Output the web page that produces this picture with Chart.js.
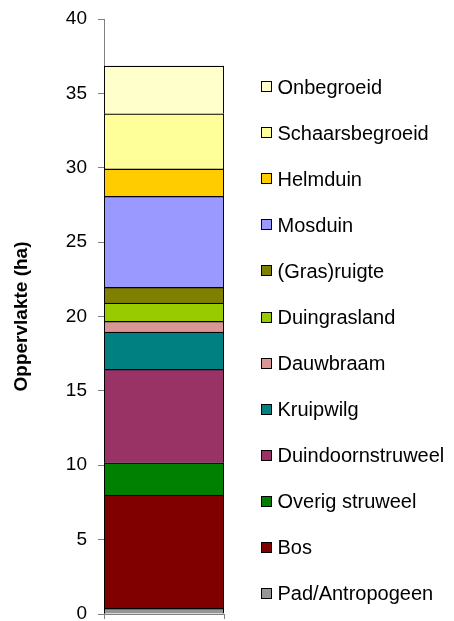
<!DOCTYPE html>
<html>
<head>
<meta charset="utf-8">
<script src="https://cdn.jsdelivr.net/npm/chart.js@4/dist/chart.umd.min.js"></script>
<style>
  html, body { margin: 0; padding: 0; background: #ffffff; }
  #wrap { width: 454px; height: 621px; position: relative; }
</style>
</head>
<body>
<div id="wrap"><canvas id="c" width="454" height="621"></canvas></div>
<script>
// Vegetation types, bottom of the stack first
const categories = [''];
const types = [
  'Pad/Antropogeen', 'Bos', 'Overig struweel', 'Duindoornstruweel',
  'Kruipwilg', 'Dauwbraam', 'Duingrasland', '(Gras)ruigte',
  'Mosduin', 'Helmduin', 'Schaarsbegroeid', 'Onbegroeid'
];
// Area per type in hectares
const areas = [0.38, 7.62, 2.17, 6.28, 2.51, 0.72, 1.23, 1.05, 6.12, 1.84, 3.71, 3.21];
const colors = [
  '#969696', '#800000', '#008000', '#993366',
  '#008080', '#DA9694', '#99CC00', '#808000',
  '#9999FF', '#FFCC00', '#FFFF99', '#FFFFCC'
];
const yTicks = [0, 5, 10, 15, 20, 25, 30, 35, 40];

const datasets = types.map((name, i) => ({
  label: name,
  data: [areas[i]],
  backgroundColor: colors[i],
  borderColor: '#000000',
  borderWidth: 1.3,
  barPercentage: 1,
  categoryPercentage: 1
}));

// Legend drawn beside the bar, top entry = top of the stack
const sideLegend = {
  id: 'sideLegend',
  afterDraw(chart) {
    const ctx = chart.ctx;
    const ds = chart.data.datasets;
    const first = 87.2, step = 46.07;
    ctx.save();
    ctx.font = '20px "Liberation Sans", Arial, sans-serif';
    ctx.textBaseline = 'middle';
    ctx.textAlign = 'left';
    for (let k = 0; k < ds.length; k++) {
      const d = ds[ds.length - 1 - k];
      const cy = first + k * step;
      ctx.fillStyle = d.backgroundColor;
      ctx.fillRect(261.5, Math.round(cy) - 5.5, 10, 10);
      ctx.strokeStyle = '#000000';
      ctx.lineWidth = 1;
      ctx.strokeRect(261.5, Math.round(cy) - 5.5, 10, 10);
      ctx.fillStyle = '#000000';
      ctx.fillText(d.label, 277.5, cy + 1);
    }
    ctx.restore();
  }
};

new Chart(document.getElementById('c'), {
  type: 'bar',
  data: { labels: categories, datasets },
  options: {
    responsive: false,
    animation: false,
    devicePixelRatio: 1,
    layout: { padding: { top: 19, right: 230, bottom: 2, left: 0 } },
    plugins: { legend: { display: false }, tooltip: { enabled: false } },
    scales: {
      x: {
        stacked: true,
        offset: true,
        afterFit(scale) {
          scale.height = 5;
          scale.paddingLeft = 0; scale.paddingRight = 0;
          scale.paddingTop = 0; scale.paddingBottom = 0;
        },
        grid: { offset: true, drawOnChartArea: false, drawTicks: true, tickLength: 5, color: '#808080' },
        border: { color: '#808080', width: 1 },
        ticks: { display: false }
      },
      y: {
        stacked: true,
        min: 0,
        max: 40,
        afterBuildTicks(scale) { scale.ticks = yTicks.map(v => ({ value: v })); },
        afterFit(scale) {
          scale.width = 104;
          scale.paddingTop = 0; scale.paddingBottom = 0;
          scale.paddingLeft = 0; scale.paddingRight = 0;
        },
        grid: { drawOnChartArea: false, drawTicks: true, tickLength: 6, color: '#808080' },
        border: { color: '#808080', width: 1 },
        ticks: {
          padding: 11,
          color: '#000000',
          font: { family: '"Liberation Sans", Arial, sans-serif', size: 19 }
        },
        title: {
          display: true,
          text: 'Oppervlakte (ha)',
          color: '#000000',
          padding: { top: 10, bottom: 0 },
          font: { family: '"Liberation Sans", Arial, sans-serif', size: 19, weight: 'bold' }
        }
      }
    }
  },
  plugins: [sideLegend]
});
</script>
</body>
</html>
